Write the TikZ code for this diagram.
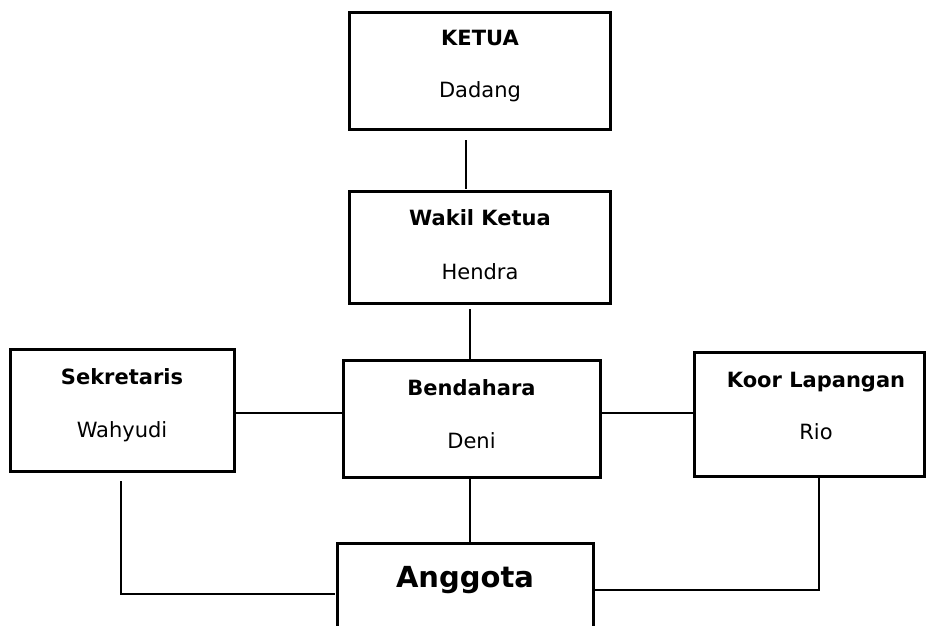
\documentclass[tikz,border=0pt]{standalone}
\usepackage{fontspec}
\setmainfont{DejaVu Sans}
\begin{document}
\begin{tikzpicture}[x=1pt,y=-1pt,
  box/.style={draw=black, line width=3pt, fill=white, inner sep=0pt, outer sep=0pt},
  conn/.style={draw=black, line width=1.3pt},
  ttl/.style={font=\fontsize{21}{25}\selectfont\bfseries, inner sep=0pt, text height=15.3pt, text depth=0pt, anchor=center},
  nm/.style={font=\fontsize{21}{25}\selectfont, inner sep=0pt, text height=15.3pt, text depth=0pt, anchor=center},
  big/.style={font=\fontsize{29}{33}\selectfont\bfseries, inner sep=0pt, text height=21.2pt, text depth=0pt, anchor=center}]
\useasboundingbox (0,0) rectangle (926,625);
\clip (0,0) rectangle (926,625);
\fill[white] (0,0) rectangle (926,625);

% boxes
\node[box, minimum width=261pt, minimum height=117pt] (ketua) at (479.5,70.5) {};
\node[box, minimum width=261pt, minimum height=112pt] (wakil) at (479.5,247) {};
\node[box, minimum width=257pt, minimum height=117pt] (bend) at (471.5,418.5) {};
\node[box, minimum width=224pt, minimum height=122pt] (sek) at (122,410) {};
\node[box, minimum width=230pt, minimum height=124pt] (koor) at (809,414) {};
\node[box, minimum width=256pt, minimum height=130pt] (angg) at (465,608) {};

% texts
\node[ttl] (tketua) at (480,38) {KETUA};
\node[nm]  (nketua) at (480,90) {Dadang};
\node[ttl] (twakil) at (480,218) {Wakil Ketua};
\node[nm]  (nwakil) at (480,272) {Hendra};
\node[ttl] (tbend) at (471.5,388) {Bendahara};
\node[nm]  (nbend) at (471.5,441) {Deni};
\node[ttl] (tsek) at (122,377) {Sekretaris};
\node[nm]  (nsek) at (122,430) {Wahyudi};
\node[ttl] (tkoor) at (816,380) {Koor Lapangan};
\node[nm]  (nkoor) at (816,432) {Rio};
\node[big] (tangg) at (465,577) {Anggota};

% connectors
\draw[conn] ([xshift=-13.5pt,yshift=-11pt]ketua.south) -- ([xshift=-13.5pt,yshift=2pt]wakil.north);
\draw[conn] ([xshift=-9.5pt,yshift=-6pt]wakil.south) -- ([xshift=-1.5pt]bend.north);
\draw[conn] ([yshift=-3pt]sek.east) -- ([yshift=5.5pt]bend.west);
\draw[conn] ([yshift=5.5pt]bend.east) -- ([yshift=1pt]koor.west);
\draw[conn] ([xshift=-1.5pt]bend.south) -- ([xshift=5pt]angg.north);
\draw[conn] ([xshift=-1pt,yshift=-10pt]sek.south) |- ([xshift=-2pt,yshift=14pt]angg.west);
\draw[conn] ([xshift=10pt,yshift=-1pt]koor.south) |- ([yshift=18pt]angg.east);
\end{tikzpicture}
\end{document}
